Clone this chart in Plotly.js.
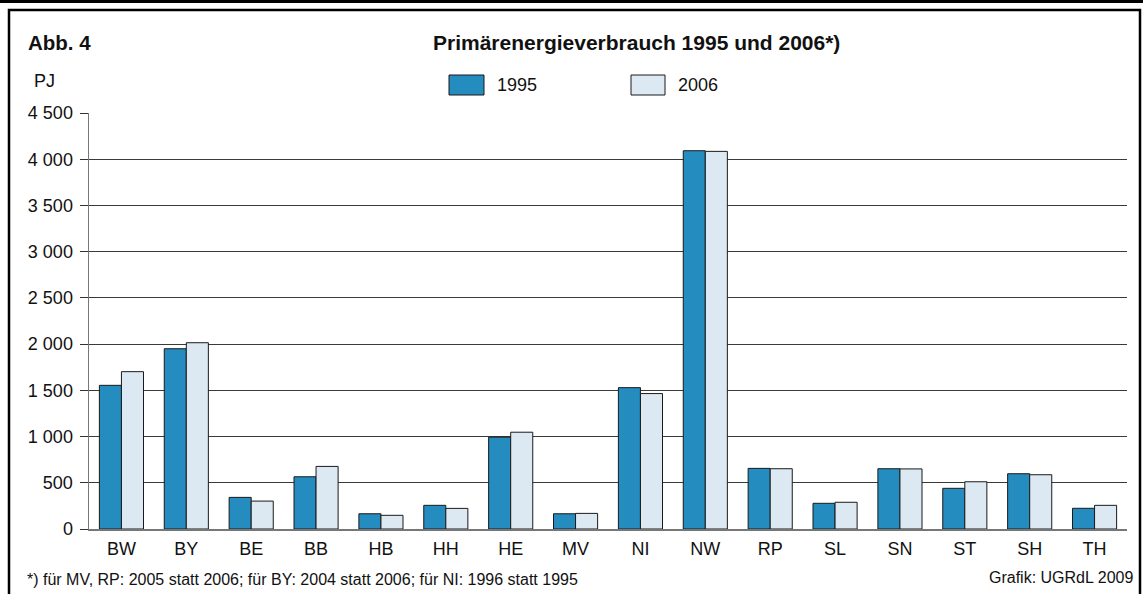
<!DOCTYPE html>
<html>
<head>
<meta charset="utf-8">
<script src="https://cdn.plot.ly/plotly-3.0.1.min.js"></script>
<style>
html,body{margin:0;padding:0;background:#fff;}
#chart{width:1143px;height:594px;}
</style>
</head>
<body>
<div id="chart"></div>
<script>
const categories = ["BW","BY","BE","BB","HB","HH","HE","MV","NI","NW","RP","SL","SN","ST","SH","TH"];
const values1995 = [1554,1950,342,565,165,256,993,165,1529,4092,656,278,652,440,598,224];
const values2006 = [1702,2015,302,677,148,223,1047,169,1465,4085,652,289,650,511,587,256];
const yTicks = [0,500,1000,1500,2000,2500,3000,3500,4000,4500];
const yTickLabels = ["0","500","1 000","1 500","2 000","2 500","3 000","3 500","4 000","4 500"];
const seriesNames = ["1995","2006"];

const L = 89, R = 1127, T = 113, B = 529;
const px = v => (v - L) / (R - L);
const py = v => (B - v) / (B - T);

const FONT = '"Liberation Sans", Arial, sans-serif';

const traces = [
  {type:'bar', name:seriesNames[0], x:categories, y:values1995,
   marker:{color:'#258cbf', line:{color:'#1a1a1a', width:1}}, hoverinfo:'x+y'},
  {type:'bar', name:seriesNames[1], x:categories, y:values2006,
   marker:{color:'#dce9f3', line:{color:'#1a1a1a', width:1}}, hoverinfo:'x+y'}
];

const layout = {
  width:1143, height:594,
  margin:{l:L, r:1143-R, t:T, b:594-B, pad:0},
  paper_bgcolor:'#fff', plot_bgcolor:'#fff',
  font:{family:FONT, size:18, color:'#111'},
  showlegend:false,
  barmode:'group', bargap:0.32, bargroupgap:0,
  xaxis:{type:'category', range:[-0.5,15.5], showgrid:false, zeroline:false,
    showline:true, linecolor:'#777', linewidth:1.5, ticks:'outside', ticklen:3, tickcolor:'rgba(0,0,0,0)',
    tickfont:{family:FONT, size:18, color:'#111'}, fixedrange:true},
  yaxis:{range:[0,4500], tickvals:yTicks, ticktext:yTickLabels, showgrid:true, gridcolor:'#3a3a3a', gridwidth:1,
    zeroline:false, showline:true, linecolor:'#777', linewidth:1.5, ticks:'outside', ticklen:8, tickcolor:'#333',
    ticklabelstandoff:3,
    tickfont:{family:FONT, size:18, color:'#111'}, fixedrange:true},
  shapes:[
    {type:'line', xref:'paper', yref:'paper', x0:px(0), x1:px(1143), y0:py(1.5), y1:py(1.5), line:{color:'#000', width:3}},
    {type:'rect', xref:'paper', yref:'paper', x0:px(9), x1:px(1140), y0:py(10), y1:py(610), line:{color:'#000', width:2.5}},
    {type:'rect', xref:'paper', yref:'paper', x0:px(449), x1:px(484), y0:py(75), y1:py(95), fillcolor:'#258cbf', line:{color:'#1a1a1a', width:1}},
    {type:'rect', xref:'paper', yref:'paper', x0:px(631), x1:px(665), y0:py(75), y1:py(95), fillcolor:'#dce9f3', line:{color:'#1a1a1a', width:1}}
  ],
  annotations:[
    {text:'<b>Abb. 4</b>', xref:'paper', yref:'paper', x:px(26), y:py(42), xanchor:'left', yanchor:'middle', showarrow:false, font:{family:FONT, size:20.5, color:'#111'}},
    {text:'<b>Primärenergieverbrauch 1995 und 2006*)</b>', xref:'paper', yref:'paper', x:px(431), y:py(42), xanchor:'left', yanchor:'middle', showarrow:false, font:{family:FONT, size:21, color:'#111'}},
    {text:'PJ', xref:'paper', yref:'paper', x:px(32), y:py(81), xanchor:'left', yanchor:'middle', showarrow:false, font:{family:FONT, size:18, color:'#111'}},
    {text:seriesNames[0], xref:'paper', yref:'paper', x:px(495), y:py(85), xanchor:'left', yanchor:'middle', showarrow:false, font:{family:FONT, size:18, color:'#111'}},
    {text:seriesNames[1], xref:'paper', yref:'paper', x:px(676), y:py(85), xanchor:'left', yanchor:'middle', showarrow:false, font:{family:FONT, size:18, color:'#111'}},
    {text:'*) für MV, RP: 2005 statt 2006; für BY: 2004 statt 2006; für NI: 1996 statt 1995', xref:'paper', yref:'paper', x:px(25), y:py(579), xanchor:'left', yanchor:'middle', showarrow:false, font:{family:FONT, size:16, color:'#111'}},
    {text:'Grafik: UGRdL 2009', xref:'paper', yref:'paper', x:px(1135), y:py(577), xanchor:'right', yanchor:'middle', showarrow:false, font:{family:FONT, size:16, color:'#111'}}
  ]
};

Plotly.newPlot('chart', traces, layout, {displayModeBar:false, staticPlot:true});
</script>
</body>
</html>
